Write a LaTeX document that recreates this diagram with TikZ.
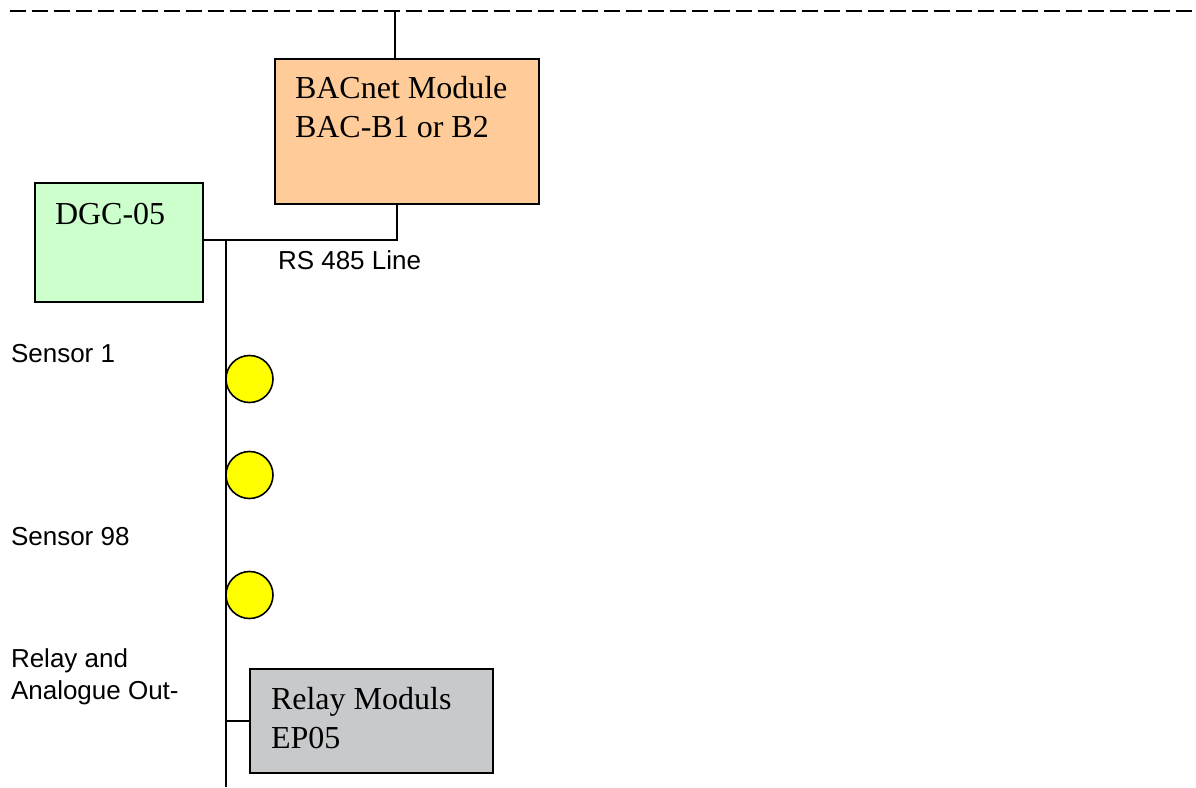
\documentclass[tikz,border=0pt]{standalone}
\usepackage{fontspec}
\setmainfont{Liberation Serif}
\setsansfont{Liberation Sans}
\definecolor{bacfill}{HTML}{FFCC99}
\definecolor{dgcfill}{HTML}{CCFFCC}
\definecolor{relfill}{HTML}{C8C9CB}
\definecolor{sensfill}{HTML}{FFFF00}
\begin{document}
\begin{tikzpicture}[x=1pt,y=-1pt,line width=2pt,
  box/.style={draw,line width=1.8pt,inner sep=0pt,anchor=north west},
  serif/.style={font=\fontsize{32}{38}\selectfont\rmfamily,anchor=base west,inner sep=0pt},
  sans/.style={font=\fontsize{26}{30}\selectfont\sffamily,anchor=base west,inner sep=0pt},
  sensor/.style={draw,circle,fill=sensfill,line width=1.6pt,minimum size=47pt,inner sep=0pt}]
\useasboundingbox (0,0) rectangle (1196,787);
% boxes
\node[box,fill=bacfill,minimum width=264pt,minimum height=145pt] (bac) at (274,58) {};
\node[box,fill=dgcfill,minimum width=168pt,minimum height=119pt] (dgc) at (34,182) {};
\node[box,fill=relfill,minimum width=243pt,minimum height=104pt] (rel) at (249,668) {};
% box texts
\node[serif] (bact1) at (294,98) {BACnet Module};
\node[serif] (bact2) at (294,137) {BAC-B1 or B2};
\node[serif] (dgct) at (54,224) {DGC-05};
\node[serif] (relt1) at (270,709) {Relay Moduls};
\node[serif] (relt2) at (270,748) {EP05};
% dashed network line
\coordinate (dl) at (9.5,11);
\coordinate (dr) at (1196,11);
\draw[line width=2.2pt,dash pattern=on 16.5pt off 5.5pt] (dl) -- (dr);
\coordinate (tap) at (395,11);
\draw (tap) -- (tap |- bac.north);
% RS485 line
\coordinate (j1) at (397,240);
\draw (j1 |- bac.south) -- (j1) -- (j1 -| dgc.east);
\node[sans] (rs) at (277,269) {RS 485 Line};
% bus
\coordinate (bt) at (226,240);
\coordinate (bb) at (226,787);
\draw (bt) -- (bb);
% sensors
\node[sensor] (s1) at (249.5,379) {};
\node[sensor] (s2) at (249.5,475) {};
\node[sensor] (s3) at (249.5,595) {};
% relay connector
\draw (bt |- rel.west) -- (rel.west);
% labels
\node[sans] (l1) at (10,362) {Sensor 1};
\node[sans] (l2) at (10,545) {Sensor 98};
\node[sans] (l3) at (10,667) {Relay and};
\node[sans] (l4) at (10,699) {Analogue Out-};
\end{tikzpicture}
\end{document}
